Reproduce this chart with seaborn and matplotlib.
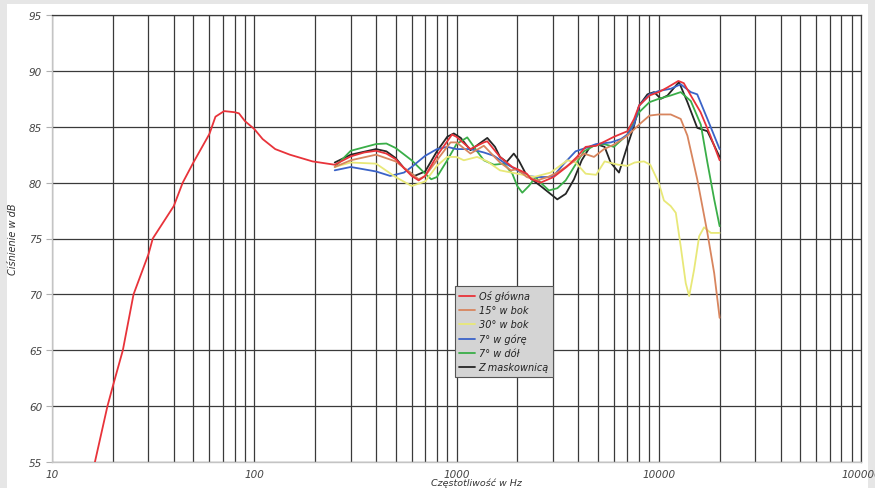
import matplotlib
matplotlib.use("Agg")
import matplotlib.pyplot as plt
import matplotlib.patches as mpatches
import seaborn as sns
import pandas as pd

# ---------------- data ----------------
main_f = [16.3, 18.8, 20, 22.4, 25.3, 30, 31.5, 40, 44.3, 50, 60, 64.3, 71, 80, 84, 90, 100, 110, 127, 150, 194,
          250, 300, 350, 400, 450, 500, 550, 600, 650, 700, 800, 900, 950, 1000, 1172, 1365, 1420, 1640, 1888,
          2000, 2115, 2225, 2350, 2605, 3020, 3500, 3940, 4350, 4900, 5500, 6000, 7000, 7550, 8000, 9000,
          10000, 11000, 12500, 13300, 14400, 16100, 18000, 20000]
main_db = [55.0, 60.0, 61.8, 65.0, 70.0, 73.6, 75.0, 77.9, 80.0, 81.8, 84.35, 85.9, 86.4, 86.3, 86.2, 85.5, 84.8,
           83.9, 83.0, 82.5, 81.9,
           81.6, 82.35, 82.7, 82.85, 82.6, 82.1, 81.3, 80.6, 80.2, 80.6, 82.4, 83.7, 84.3, 84.1, 83.0, 83.6, 83.7,
           82.3, 81.4, 81.2, 81.0, 80.8, 80.3, 80.0, 80.5, 81.4, 82.3, 83.2, 83.3, 83.75, 84.1, 84.6, 85.7, 86.9,
           87.8, 88.1, 88.5, 89.1, 88.9, 87.8, 86.3, 84.2, 82.0]

s15_f = [250, 300, 400, 500, 600, 650, 700, 800, 934, 1000, 1172, 1365, 1640, 1860, 2000, 2225, 2500, 2830,
         3150, 3670, 4270, 4785, 5360, 6000, 7000, 8000, 9000, 10000, 11460, 12840, 13860, 15500, 17400, 18800,
         20000]
s15_db = [81.4, 82.0, 82.5, 81.9, 80.8, 80.3, 80.6, 82.0, 83.6, 83.6, 82.6, 83.3, 81.8, 81.1, 81.2, 80.5, 80.2,
          80.5, 80.9, 81.7, 82.6, 82.3, 83.0, 83.4, 84.2, 85.2, 86.0, 86.1, 86.1, 85.7, 84.2, 80.3, 75.5, 71.9,
          67.9]

s30_f = [250, 300, 400, 500, 600, 700, 800, 900, 1000, 1087, 1265, 1420, 1640, 2000, 2410, 2920, 3540, 3880,
         4350, 4900, 5400, 6300, 7000, 7600, 8450, 9080, 9990, 10610, 11460, 12140, 12840, 13600, 14140, 14950,
         15840, 16750, 18100, 20000]
s30_db = [81.4, 81.8, 81.7, 80.5, 79.7, 80.1, 81.5, 82.3, 82.3, 82.0, 82.3, 81.9, 81.1, 80.8, 80.5, 80.9, 82.0,
          81.8, 80.8, 80.7, 81.9, 81.6, 81.5, 81.8, 81.9, 81.6, 80.0, 78.4, 77.9, 77.3, 74.3, 71.0, 69.85, 72.2,
          75.2, 76.0, 75.5, 75.5]

up7_f = [250, 300, 400, 470, 550, 600, 700, 800, 900, 1000, 1172, 1365, 1530, 1715, 2000, 2225, 2500, 2830,
         3020, 3400, 3880, 4350, 4900, 5800, 6500, 7000, 7550, 8000, 9000, 10000, 11460, 12840, 14400, 15500,
         17400, 20000]
up7_db = [81.1, 81.4, 81.0, 80.6, 80.9, 81.4, 82.4, 83.0, 83.2, 83.0, 83.0, 82.7, 82.4, 81.8, 81.1, 80.6, 80.5,
          80.5, 80.6, 81.7, 82.8, 83.1, 83.45, 83.6, 83.9, 84.3, 85.2, 86.9, 87.9, 88.2, 88.4, 88.8, 88.1, 87.9,
          85.7, 83.0]

down7_f = [250, 300, 400, 450, 500, 600, 700, 750, 800, 900, 1000, 1130, 1265, 1365, 1530, 1715, 1888, 1997,
           2115, 2280, 2462, 2605, 2865, 3153, 3466, 3811, 4270, 4785, 5360, 6000, 7000, 8000, 9000, 10000,
           11460, 12840, 14400, 16140, 17400, 18800, 20000]
down7_db = [81.4, 82.85, 83.45, 83.5, 83.1, 82.0, 80.8, 80.3, 80.5, 82.0, 83.45, 84.05, 82.8, 82.0, 81.6, 81.7,
            80.8, 79.7, 79.1, 79.7, 80.5, 80.0, 79.3, 79.5, 80.2, 81.4, 82.8, 83.3, 83.45, 83.2, 84.3, 86.3,
            87.2, 87.5, 87.8, 88.1, 87.3, 85.2, 81.8, 78.5, 76.1]

mask_f = [250, 300, 400, 450, 500, 550, 620, 700, 800, 900, 970, 1050, 1172, 1300, 1420, 1550, 1640, 1770,
          1920, 2030, 2200, 2350, 2605, 2865, 3150, 3470, 3810, 4160, 4570, 5000, 5400, 5780, 6360, 7000, 7550,
          8000, 8790, 9480, 10240, 11050, 12590, 13860, 15500, 17400, 20000]
mask_db = [81.8, 82.5, 83.0, 82.8, 82.2, 81.3, 80.6, 81.0, 82.8, 84.1, 84.4, 84.0, 82.9, 83.5, 84.0, 83.2, 82.3,
           81.85, 82.6, 82.0, 80.8, 80.3, 79.7, 79.1, 78.5, 79.0, 80.3, 82.0, 83.2, 83.4, 83.2, 81.8, 80.9, 83.3,
           85.1, 86.9, 87.9, 88.1, 87.5, 87.8, 89.0, 87.2, 84.9, 84.6, 82.3]

labels = ["Oś główna", "15° w bok", "30° w bok", "7° w górę", "7° w dół", "Z maskownicą"]
colors = ["#e8333a", "#d8855e", "#e8e878", "#3b63c8", "#3aae48", "#262626"]
xtick_vals = [10, 100, 1000, 10000, 100000]
xtick_labels = ["10", "100", "1000", "10000", "100000"]
ytick_vals = [55, 60, 65, 70, 75, 80, 85, 90, 95]

series = [(main_f, main_db), (s15_f, s15_db), (s30_f, s30_db), (up7_f, up7_db),
          (down7_f, down7_db), (mask_f, mask_db)]
frames = []
for lab, (f, d) in zip(labels, series):
    frames.append(pd.DataFrame({"f": f, "db": d, "seria": lab}))
df = pd.concat(frames, ignore_index=True)

# ---------------- figure ----------------
sns.set_style("white")
plt.rcParams["font.family"] = ["DejaVu Sans"]

fig = plt.figure(figsize=(8.75, 4.89), dpi=100, facecolor="#e6e6e6")
panel = mpatches.Rectangle((7 / 875, 0), (868 - 7) / 875, (489 - 5) / 489,
                           transform=fig.transFigure, facecolor="white",
                           edgecolor="none", zorder=-10)
fig.patches.append(panel)
ax = fig.add_axes([52 / 875, 1 - 463 / 489, (861 - 52) / 875, (463 - 16) / 489])
ax.set_zorder(5)
ax.set_facecolor("white")

draw_order = [5, 4, 3, 2, 1, 0]
for i in draw_order:
    sub = df[df["seria"] == labels[i]]
    sns.lineplot(data=sub, x="f", y="db", ax=ax, color=colors[i], linewidth=1.3,
                 label=labels[i], estimator=None, sort=True, zorder=3 + (5 - i))
for ln in ax.get_lines():
    ln.set_solid_joinstyle("round")
    ln.set_solid_capstyle("round")

ax.set_xscale("log")
ax.set_xlim(10, 100000)
ax.set_ylim(55, 95)
ax.set_xticks(xtick_vals)
ax.set_xticklabels(xtick_labels)
ax.set_yticks(ytick_vals)
ax.xaxis.set_minor_locator(matplotlib.ticker.LogLocator(base=10, subs=range(2, 10), numticks=20))
ax.xaxis.set_minor_formatter(matplotlib.ticker.NullFormatter())

gcol = "#3a3a3a"
ax.grid(True, which="major", axis="both", color=gcol, linewidth=0.9)
ax.grid(True, which="minor", axis="x", color=gcol, linewidth=0.9)
ax.set_axisbelow(True)

for s in ["top", "right"]:
    ax.spines[s].set_color(gcol)
    ax.spines[s].set_linewidth(0.9)
for s in ["left", "bottom"]:
    ax.spines[s].set_color("#c4c4c4")
    ax.spines[s].set_linewidth(1.0)

ax.tick_params(axis="x", which="both", length=0, pad=5, labelsize=7.5, labelcolor="#444444")
ax.tick_params(axis="y", which="major", length=4, width=0.8, color="#b0b0b0", direction="out",
               pad=3, labelsize=7.5, labelcolor="#444444", left=True)
for t in ax.get_xticklabels() + ax.get_yticklabels():
    t.set_fontstyle("italic")

ax.set_xlabel("Częstotliwość w Hz", fontsize=6.8, fontstyle="italic", color="#333333", labelpad=1)
ax.xaxis.set_label_coords((476 - 52) / 809, -0.034)
ax.set_ylabel("Ciśnienie w dB", fontsize=7, fontstyle="italic", color="#333333", labelpad=8)

handles, labs = ax.get_legend_handles_labels()
hmap = dict(zip(labs, handles))
leg = ax.legend([hmap[l] for l in labels], labels, loc="upper left",
                bbox_to_anchor=(0.498, 0.394), frameon=True, fancybox=False,
                facecolor="#d4d4d4", edgecolor="#555555", framealpha=1,
                prop={"size": 7, "style": "italic"}, handlelength=1.6, handletextpad=0.4,
                labelspacing=0.42, borderpad=0.45, borderaxespad=0)
leg.get_frame().set_linewidth(0.8)
for t in leg.get_texts():
    t.set_color("#222222")

fig.savefig("out.png", dpi=100, facecolor=fig.get_facecolor())
